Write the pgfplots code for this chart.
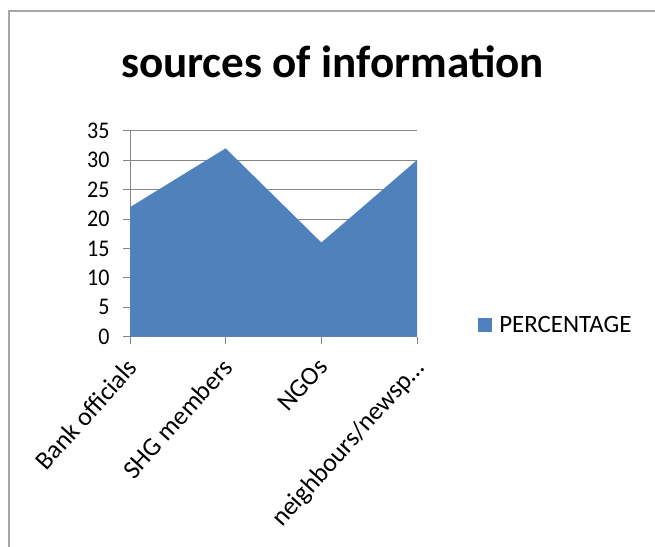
\documentclass[border=0pt]{standalone}
\usepackage{pgfplots}
\pgfplotsset{compat=1.18}
\usepackage{fontspec}
\setmainfont{Carlito}
\newfontfamily\numfont[FakeStretch=0.92]{Carlito}
\definecolor{areablue}{HTML}{4F81BD}
\definecolor{gridgray}{HTML}{878787}
\definecolor{framegray}{HTML}{A6A6A6}
\begin{document}
\begin{tikzpicture}[x=1bp,y=1bp]
\useasboundingbox (0,0) rectangle (655,547);
% chart frame
\draw[framegray, line width=1.2bp] (9,-5) -- (9,536) -- (662,536);
% title
\node[font=\fontsize{45.3}{50}\selectfont\bfseries, anchor=base, inner sep=0pt] at (332.5,469) {sources of information};
\begin{axis}[
  at={(130bp,210.3bp)}, anchor=south west,
  scale only axis, width=287bp, height=206bp,
  xmin=0, xmax=3, ymin=0, ymax=35,
  xtick={0,1,2,3},
  xticklabels={Bank officials, SHG members, NGOs, neighbours/newsp…},
  ytick={0,5,...,35},
  axis x line*=bottom, axis y line*=left,
  axis line style={gridgray, line width=0.9bp, -},
  tick style={gridgray, line width=0.9bp},
  tick align=outside, major tick length=7bp,
  ymajorgrids, grid style={gridgray, line width=0.9bp},
  yticklabel style={font=\numfont\fontsize{24}{28}\selectfont, xshift=-10bp},
  xticklabel style={font=\fontsize{26}{30}\selectfont, xshift=-5bp, yshift=-10bp,
    rotate=48, anchor=north east, inner sep=2bp},
  legend style={draw=none, at={(1.213,0.055)}, anchor=west,
    font=\fontsize{25}{29}\selectfont, inner sep=0pt},
  legend image code/.code={\fill[areablue] (0bp,-7bp) rectangle (14bp,7bp); \path (19bp,0bp);},
  /pgf/number format/assume math mode=true,
]
\addplot[fill=areablue, draw=none] coordinates {(0,22) (1,32) (2,16) (3,30)} \closedcycle;
\addlegendentry{PERCENTAGE}
\end{axis}
\end{tikzpicture}
\end{document}
